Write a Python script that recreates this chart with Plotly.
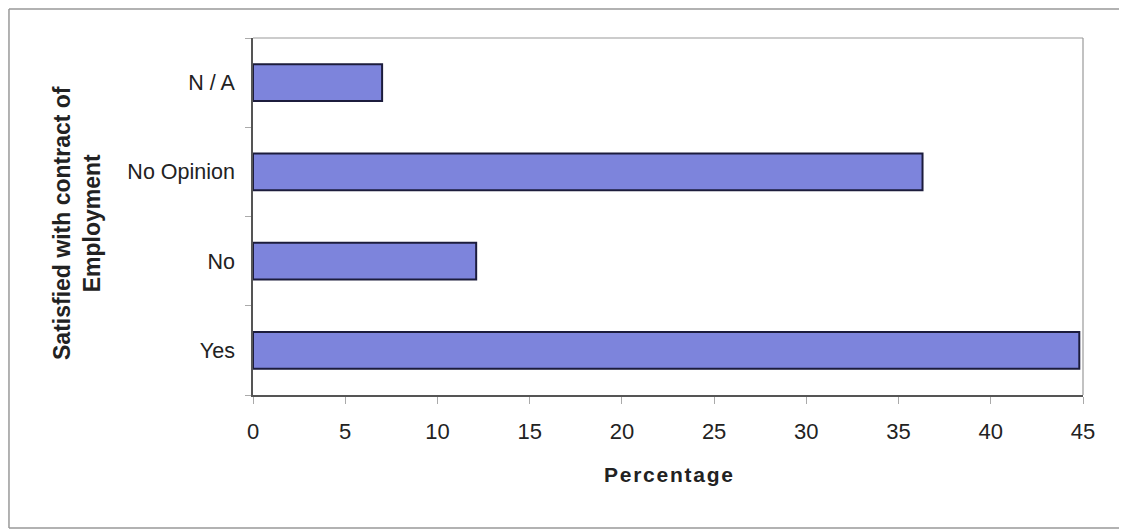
import plotly.graph_objects as go

categories = ["Yes", "No", "No Opinion", "N / A"]
percentages = [44.8, 12.1, 36.3, 7.0]
x_ticks = [0, 5, 10, 15, 20, 25, 30, 35, 40, 45]

FONT = "Liberation Sans, Arial, sans-serif"

fig = go.Figure(
    go.Bar(
        x=percentages,
        y=categories,
        orientation="h",
        width=0.41,
        marker=dict(color="#7d84dc", line=dict(color="#1c1c3c", width=2)),
    )
)

frame = dict(color="#999", width=1.5)

fig.update_layout(
    width=1111,
    height=523,
    margin=dict(l=245, r=36, t=30, b=136),
    paper_bgcolor="white",
    plot_bgcolor="white",
    showlegend=False,
    font=dict(family=FONT, size=16, color="#222"),
    xaxis=dict(
        range=[0, 45],
        tickvals=x_ticks,
        ticks="outside",
        ticklen=7,
        tickcolor="#aaa",
        ticklabelstandoff=9,
        showgrid=False,
        zeroline=False,
        showline=True,
        linecolor="#555",
        linewidth=1.5,
        tickfont=dict(size=22, color="#222"),
    ),
    yaxis=dict(
        categoryorder="array",
        categoryarray=categories,
        range=[-0.5, 3.5],
        ticks="outside",
        tickson="boundaries",
        ticklen=6,
        tickcolor="#aaa",
        ticklabelstandoff=12,
        showgrid=False,
        zeroline=False,
        showline=True,
        linecolor="#555",
        linewidth=1.5,
        tickfont=dict(size=21.5, color="#222"),
    ),
    annotations=[
        dict(
            text="<b>Satisfied with contract of<br>Employment</b>",
            xref="paper", yref="paper",
            x=-0.212, y=0.482,
            xanchor="center", yanchor="middle",
            textangle=-90, showarrow=False,
            font=dict(size=23, color="#222"),
        ),
        dict(
            text="<b>" + "&#8202;".join("Percentage") + "</b>",
            xref="paper", yref="paper",
            x=0.5, y=-0.224,
            xanchor="center", yanchor="middle",
            showarrow=False,
            font=dict(size=21, color="#222"),
        ),
    ],
    shapes=[
        dict(type="line", xref="paper", yref="paper",
             x0=-0.294, x1=-0.294, y0=-0.3725, y1=1.081, line=frame),
        dict(type="line", xref="paper", yref="paper",
             x0=-0.294, x1=1.2, y0=1.081, y1=1.081, line=frame),
        dict(type="line", xref="paper", yref="paper",
             x0=-0.294, x1=1.2, y0=-0.3725, y1=-0.3725, line=frame),
        dict(type="line", xref="paper", yref="paper", x0=0, x1=1, y0=1, y1=1,
             line=dict(color="#999", width=1.2)),
        dict(type="line", xref="paper", yref="paper", x0=1, x1=1, y0=0, y1=1,
             line=dict(color="#999", width=1.2)),
    ],
)

fig.write_html("out.html")
